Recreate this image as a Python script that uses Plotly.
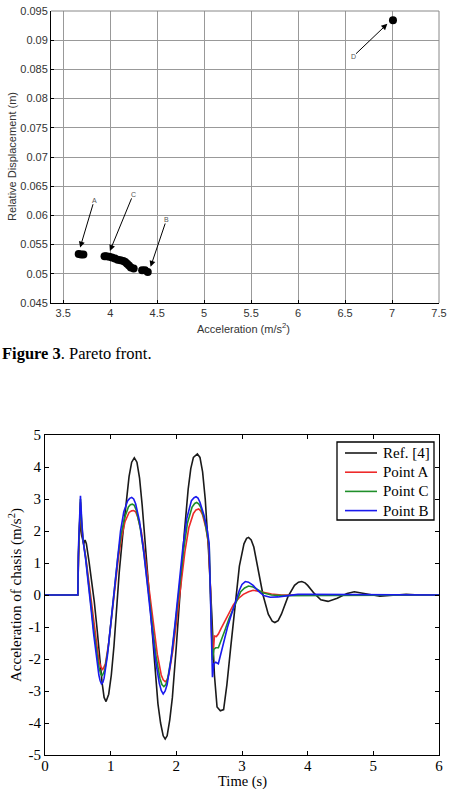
import plotly.graph_objects as go

# ---------------- Pareto front data ----------------
pareto_acc = [3.665, 3.69, 3.715,
              3.94, 3.96, 3.99, 4.02, 4.05, 4.08, 4.11, 4.14, 4.16, 4.18, 4.20, 4.22, 4.25,
              4.34, 4.37, 4.40,
              7.01]
pareto_disp = [0.0534, 0.0533, 0.0533,
               0.0530, 0.0530, 0.0529, 0.0528, 0.0526, 0.0524, 0.0523, 0.0522, 0.0520, 0.0517, 0.0514, 0.0511, 0.0509,
               0.0506, 0.0506, 0.0503,
               0.0934]
top_xticks = [3.5, 4, 4.5, 5, 5.5, 6, 6.5, 7, 7.5]
top_xtext = ["3.5", "4", "4.5", "5", "5.5", "6", "6.5", "7", "7.5"]
top_yticks = [0.045, 0.05, 0.055, 0.06, 0.065, 0.07, 0.075, 0.08, 0.085, 0.09, 0.095]
top_ytext = ["0.045", "0.05", "0.055", "0.06", "0.065", "0.07", "0.075", "0.08", "0.085", "0.09", "0.095"]

# point labels: name, label position (arrow tail), arrow head
pt_names = ["A", "C", "B", "D"]
pt_label_xy = [(3.83, 0.0626), (4.245, 0.0636), (4.60, 0.0593), (6.585, 0.0872)]
pt_head_xy = [(3.68, 0.0545), (3.997, 0.0539), (4.43, 0.0512), (6.95, 0.0928)]

# ---------------- Time response data ----------------
t_ref = [0, 0.5, 0.51, 0.53, 0.56, 0.59, 0.61, 0.63, 0.67, 0.71, 0.75, 0.79, 0.83, 0.87, 0.9, 0.93,
         0.97, 1.01, 1.05, 1.09, 1.13, 1.18, 1.23, 1.28, 1.32, 1.36, 1.4, 1.44, 1.48, 1.54, 1.6, 1.66,
         1.72, 1.76, 1.8, 1.83, 1.86, 1.9, 1.94, 2.0, 2.06, 2.12, 2.18, 2.22, 2.26, 2.32, 2.36, 2.4, 2.44, 2.49, 2.54,
         2.58, 2.62, 2.67, 2.72, 2.77, 2.83, 2.9, 2.96, 3.03, 3.07, 3.1, 3.14, 3.18, 3.25, 3.32, 3.4, 3.46, 3.5, 3.55, 3.6,
         3.7, 3.8, 3.86, 3.91, 3.96, 4.0, 4.1, 4.2, 4.31, 4.45, 4.6, 4.71, 4.85, 5.0, 5.1, 5.3, 5.5, 5.7, 6.0]
a_ref = [0, 0, 1.2, 2.3, 1.85, 1.6, 1.72, 1.6, 1.05, 0.45, -0.2, -1.0, -1.9, -2.75, -3.2, -3.33,
         -3.1, -2.5, -1.6, -0.4, 0.7, 1.8, 2.85, 3.7, 4.15, 4.29, 4.15, 3.65, 2.8, 1.2, -0.5, -2.1,
         -3.4, -4.0, -4.4, -4.5, -4.4, -3.9, -3.2, -1.6, 0.2, 1.9, 3.3, 3.95, 4.3, 4.41, 4.3, 3.85, 3.0, 1.4, -0.6,
         -2.5, -3.5, -3.62, -3.58, -2.8, -1.6, -0.2, 0.9, 1.6, 1.77, 1.8, 1.72, 1.5, 0.8, 0.0, -0.6, -0.82, -0.86, -0.8, -0.6,
         -0.05, 0.3, 0.4, 0.42, 0.38, 0.3, 0.05, -0.15, -0.2, -0.1, 0.05, 0.1, 0.05, -0.02, -0.04, -0.01, 0.02, 0.0, 0.0]

t_a = [0, 0.5, 0.51, 0.54, 0.56, 0.58, 0.62, 0.66, 0.7, 0.74, 0.78, 0.82, 0.85, 0.88, 0.92, 0.97, 1.02,
       1.07, 1.12, 1.17, 1.22, 1.28, 1.32, 1.35, 1.38, 1.41, 1.47, 1.53, 1.59, 1.65, 1.71, 1.77, 1.8, 1.83, 1.86, 1.89,
       1.95, 2.01, 2.07, 2.13, 2.19, 2.26, 2.3, 2.34, 2.37, 2.4, 2.45, 2.49, 2.52, 2.54, 2.56, 2.58, 2.61,
       2.64, 2.68, 2.74, 2.8, 2.87, 2.95, 3.02, 3.1, 3.17, 3.25, 3.35, 3.45, 3.6, 6.0]
a_a = [0, 0, 1.2, 2.9, 2.1, 1.7, 1.2, 0.55, -0.2, -0.9, -1.55, -2.05, -2.25, -2.33, -2.15, -1.5, -0.6,
       0.35, 1.2, 1.85, 2.3, 2.58, 2.63, 2.64, 2.6, 2.45, 1.95, 1.1, 0.1, -0.95, -1.85, -2.5, -2.65, -2.71, -2.65, -2.45,
       -1.7, -0.7, 0.4, 1.35, 2.1, 2.55, 2.66, 2.69, 2.63, 2.5, 2.1, 1.6, 0.2, -1.4, -1.88, -1.28, -1.3,
       -1.22, -1.05, -0.8, -0.55, -0.3, -0.1, 0.02, 0.1, 0.15, 0.12, 0.07, 0.03, 0.0, 0.0]

t_c = [0, 0.5, 0.51, 0.54, 0.56, 0.58, 0.62, 0.66, 0.7, 0.74, 0.78, 0.82, 0.85, 0.87, 0.91, 0.96, 1.01,
       1.06, 1.11, 1.16, 1.21, 1.27, 1.3, 1.33, 1.36, 1.39, 1.45, 1.51, 1.57, 1.63, 1.69, 1.75, 1.78, 1.81, 1.84, 1.87,
       1.93, 1.99, 2.05, 2.11, 2.17, 2.24, 2.28, 2.31, 2.34, 2.37, 2.43, 2.47, 2.5, 2.52, 2.54, 2.55, 2.57,
       2.6, 2.64, 2.68, 2.74, 2.8, 2.87, 2.93, 2.98, 3.04, 3.1, 3.17, 3.25, 3.33, 3.45, 3.6, 6.0]
a_c = [0, 0, 1.3, 3.0, 2.2, 1.7, 1.15, 0.5, -0.3, -1.05, -1.7, -2.25, -2.47, -2.53, -2.35, -1.7, -0.75,
       0.3, 1.2, 1.9, 2.4, 2.75, 2.82, 2.84, 2.8, 2.65, 2.1, 1.25, 0.2, -0.9, -1.9, -2.6, -2.8, -2.86, -2.8, -2.6,
       -1.85, -0.8, 0.35, 1.4, 2.25, 2.75, 2.86, 2.89, 2.85, 2.75, 2.35, 1.95, 1.55, 0.0, -1.8, -2.03, -1.7,
       -1.65, -1.65, -1.45, -1.1, -0.75, -0.4, -0.1, 0.1, 0.22, 0.28, 0.25, 0.15, 0.06, 0.0, -0.02, 0.0]

t_b = [0, 0.5, 0.51, 0.54, 0.56, 0.58, 0.62, 0.66, 0.7, 0.74, 0.78, 0.82, 0.84, 0.86, 0.88, 0.9, 0.95, 1.0,
       1.05, 1.1, 1.15, 1.2, 1.26, 1.29, 1.32, 1.35, 1.38, 1.44, 1.5, 1.56, 1.62, 1.68, 1.74, 1.77, 1.8, 1.83, 1.86,
       1.92, 1.98, 2.04, 2.1, 2.16, 2.23, 2.27, 2.3, 2.33, 2.36, 2.42, 2.47, 2.5, 2.52, 2.54, 2.55, 2.57,
       2.6, 2.64, 2.68, 2.73, 2.78, 2.84, 2.9, 2.96, 3.0, 3.05, 3.1, 3.17, 3.25, 3.33, 3.43, 3.55,
       3.7, 3.85, 4.0, 6.0]
a_b = [0, 0, 1.5, 3.1, 2.3, 1.7, 1.1, 0.4, -0.4, -1.2, -1.9, -2.5, -2.68, -2.78, -2.74, -2.6, -1.9, -0.9,
       0.2, 1.2, 2.0, 2.6, 2.95, 3.02, 3.05, 3.0, 2.85, 2.3, 1.4, 0.3, -0.9, -2.0, -2.75, -2.98, -3.09, -3.0, -2.8,
       -2.0, -0.9, 0.3, 1.5, 2.4, 2.95, 3.04, 3.07, 3.03, 2.9, 2.5, 2.05, 1.6, 0.0, -2.2, -2.57, -2.15,
       -2.1, -2.15, -1.8, -1.4, -1.0, -0.6, -0.2, 0.15, 0.33, 0.42, 0.4, 0.3, 0.12, -0.02, -0.07, -0.06,
       -0.02, 0.02, 0.02, 0.0]

series_names = ["Ref. [4]", "Point A", "Point C", "Point B"]
series_t = [t_ref, t_a, t_c, t_b]
series_a = [a_ref, a_a, a_c, a_b]
series_colors = ["#1a1a1a", "#ee2a2a", "#1f8f2a", "#1a1aee"]

bot_xticks = [0, 1, 2, 3, 4, 5, 6]
bot_xtext = ["0", "1", "2", "3", "4", "5", "6"]
bot_yticks = [-5, -4, -3, -2, -1, 0, 1, 2, 3, 4, 5]
bot_ytext = ["-5", "-4", "-3", "-2", "-1", "0", "1", "2", "3", "4", "5"]

W, H = 451, 789
def px(x):
    return x / W
def py(y):
    return 1 - y / H

fig = go.Figure()

fig.add_trace(go.Scatter(
    x=pareto_acc, y=pareto_disp, mode="markers",
    marker=dict(color="black", size=8, line=dict(width=0)),
    showlegend=False, xaxis="x", yaxis="y"))

for name, t, a, c in zip(series_names, series_t, series_a, series_colors):
    fig.add_trace(go.Scatter(
        x=t, y=a, mode="lines", name=name, showlegend=False,
        line=dict(color=c, width=1.6),
        xaxis="x2", yaxis="y2"))

sans = "Liberation Sans, Arial, sans-serif"
serif = "Liberation Serif, Times New Roman, serif"

annotations = []
shapes = [
    dict(type="line", xref="x domain", yref="y domain", x0=0, x1=1, y0=1, y1=1,
         line=dict(color="#888", width=1)),
    dict(type="line", xref="x domain", yref="y domain", x0=1, x1=1, y0=0, y1=1,
         line=dict(color="#888", width=1)),
]

for n, (lx, ly), (hx, hy) in zip(pt_names, pt_label_xy, pt_head_xy):
    annotations.append(dict(x=hx, y=hy, ax=lx, ay=ly, xref="x", yref="y", axref="x", ayref="y",
                            text=n, showarrow=True, arrowhead=2, arrowsize=1.2, arrowwidth=1,
                            arrowcolor="black", borderpad=0,
                            font=dict(family=sans, size=7, color="#555555")))

annotations += [
    dict(x=px(12), y=py(157), xref="paper", yref="paper", text="Relative Displacement (m)",
         xanchor="center", yanchor="middle",
         textangle=-90, showarrow=False, font=dict(family=sans, size=11, color="#333")),
    dict(x=px(243), y=py(328), xref="paper", yref="paper", text="Acceleration (m/s<sup>2</sup>)",
         xanchor="center", yanchor="middle",
         showarrow=False, font=dict(family=sans, size=11, color="#333")),
    dict(x=0, y=py(353), xref="paper", yref="paper", xanchor="left", yanchor="middle",
         text="<b>Figure 3</b>. Pareto front.", showarrow=False,
         font=dict(family=serif, size=16.5, color="black")),
    dict(x=px(15), y=py(595), xref="paper", yref="paper",
         xanchor="center", yanchor="middle",
         text="Acceleration of chasis (m/s<sup>2</sup>)", textangle=-90, showarrow=False,
         font=dict(family=serif, size=15, color="black")),
    dict(x=px(242), y=py(781), xref="paper", yref="paper", text="Time (s)", showarrow=False,
         xanchor="center", yanchor="middle", borderpad=0,
         font=dict(family=serif, size=14.5, color="black")),
]

# legend box for the time-response chart (built from the series lists)
leg_x0, leg_x1, leg_y0, leg_y1 = 337, 434, 442, 520
shapes.append(dict(type="rect", xref="paper", yref="paper",
                   x0=px(leg_x0), x1=px(leg_x1), y0=py(leg_y1), y1=py(leg_y0),
                   line=dict(color="black", width=1.3), fillcolor="white", layer="above"))
for i, (name, c) in enumerate(zip(series_names, series_colors)):
    yy = 453 + 19.2 * i
    shapes.append(dict(type="line", xref="paper", yref="paper",
                       x0=px(345), x1=px(377), y0=py(yy), y1=py(yy),
                       line=dict(color=c, width=1.6), layer="above"))
    annotations.append(dict(x=px(381), y=py(yy), xref="paper", yref="paper", text=name,
                            xanchor="left", yanchor="middle", showarrow=False,
                            font=dict(family=serif, size=15, color="black")))

fig.update_layout(
    width=W, height=H, margin=dict(l=0, r=0, t=0, b=0, autoexpand=False),
    paper_bgcolor="white", plot_bgcolor="white", showlegend=False,
    xaxis=dict(domain=[px(51), px(439)], range=[3.37, 7.5], tickvals=top_xticks, ticktext=top_xtext,
               showgrid=True, gridcolor="#999", gridwidth=1, zeroline=False, automargin=False,
               showline=True, linecolor="black", linewidth=1, ticks="inside", ticklen=3,
               tickcolor="black", tickfont=dict(family=sans, size=11, color="#333"), anchor="y"),
    yaxis=dict(domain=[py(303), py(11)], range=[0.045, 0.095], tickvals=top_yticks, ticktext=top_ytext,
               showgrid=True, gridcolor="#999", gridwidth=1, zeroline=False, automargin=False,
               showline=True, linecolor="black", linewidth=1, ticks="inside", ticklen=3,
               tickcolor="black", tickfont=dict(family=sans, size=11, color="#333"), anchor="x"),
    xaxis2=dict(domain=[px(45), px(439)], range=[0, 6], tickvals=bot_xticks, ticktext=bot_xtext,
                showgrid=False, zeroline=False, showline=True, linecolor="black", linewidth=1.2,
                mirror="ticks", ticks="inside", ticklen=4, tickcolor="black", automargin=False,
                ticklabelstandoff=-3,
                tickfont=dict(family=serif, size=15, color="black"), anchor="y2"),
    yaxis2=dict(domain=[py(755), py(435)], range=[-5, 5], tickvals=bot_yticks, ticktext=bot_ytext,
                showgrid=False, zeroline=False, showline=True, linecolor="black", linewidth=1.2,
                mirror="ticks", ticks="inside", ticklen=4, tickcolor="black", automargin=False,
                tickfont=dict(family=serif, size=15, color="black"), anchor="x2"),
    annotations=annotations, shapes=shapes,
)

fig.write_html("out.html")
